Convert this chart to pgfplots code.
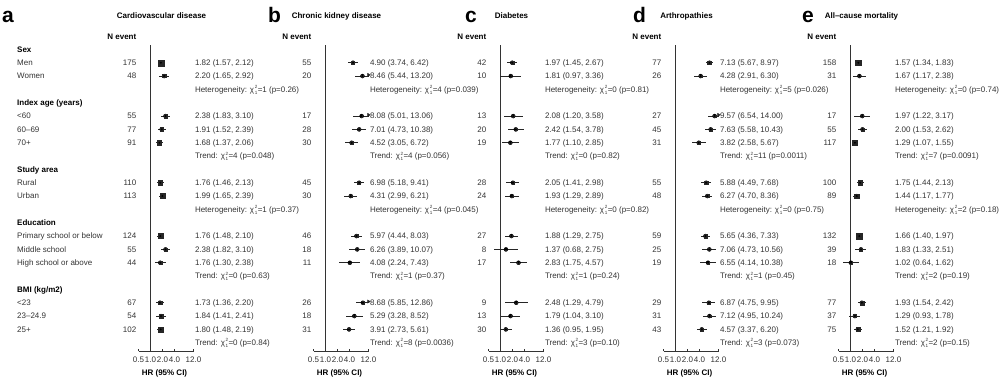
\documentclass[border=0pt]{standalone}
\usepackage{fontspec}
\setmainfont{Liberation Sans}
\usepackage{pgfplots}
\pgfplotsset{compat=1.18}
\usepackage{pgfplotstable}

\newcommand\fs{\fontsize{8.0}{9.5}\selectfont}
\tikzset{tx/.style={inner sep=0pt, font=\fs, text=black!80}}
\newcommand\chisq[1]{χ\kern0.6pt\rlap{\raisebox{3.7pt}{\fontsize{4.6}{4.6}\selectfont 2}}\raisebox{-2.2pt}{\fontsize{4.6}{4.6}\selectfont 1}\kern0.4pt=#1}
\newcommand\hrow[3]{%
  \node[tx,anchor=mid east,xshift=-14pt] at (axis cs:1,#1) {#2};
  \node[tx,anchor=mid west,xshift=1.3pt] at (axis cs:12,#1) {#3};}
\newcommand\strow[2]{\node[tx,anchor=mid west,xshift=1.3pt] at (axis cs:12,#1) {#2};}
\newcommand\lab[2]{\node[tx,anchor=mid west,xshift=-133.5pt] at (axis cs:1,#1) {#2};}
\newcommand\hdr[2]{\node[tx,anchor=mid west,xshift=-133.5pt,font=\fs\bfseries,text=black] at (axis cs:1,#1) {#2};}
\newcommand\panelhead[1]{%
  \node[tx,font=\fs\bfseries,text=black,anchor=mid,xshift=11pt] at (axis cs:1,-2.5) {#1};
  \node[tx,font=\fs\bfseries,text=black,anchor=mid east,xshift=-14pt] at (axis cs:1,-0.93) {N event};
  \node[tx,font=\fs\bfseries,text=black,anchor=mid,xshift=14pt,yshift=-22pt] at (axis cs:1,22.62) {HR (95\% CI)};
  \addplot[black!80, line width=1pt] coordinates {(1,-0.33) (1,22.62)};}
\newcommand\plotdata[1]{%
  \addplot[only marks, mark=none, error bars/.cd, x dir=both, x explicit, error mark=none,
    error bar style={black!85, line width=0.65pt}]
    table[x=hr, y=k, x error plus expr={min(\thisrow{hi},12)-\thisrow{hr}},
          x error minus expr={\thisrow{hr}-\thisrow{lo}}] {#1};
  \addplot[scatter, only marks, mark=square*, point meta=\thisrow{n},
    scatter/use mapped color={draw=black!85, fill=black!85},
    visualization depends on={0.9/(ln(\thisrow{hi})-ln(\thisrow{lo})) \as \msz},
    scatter/@pre marker code/.append style={/tikz/mark size=\msz}]
    table[x=hr, y=k] {#1};
  \addplot[only marks, mark=*, mark size=0.7pt, black] table[x=hr, y=k] {#1};}

\pgfplotstableread{
k n hr lo hi
1 175 1.82 1.57 2.12
2 48 2.20 1.65 2.92
5 55 2.38 1.83 3.10
6 77 1.91 1.52 2.39
7 91 1.68 1.37 2.06
10 110 1.76 1.46 2.13
11 113 1.99 1.65 2.39
14 124 1.76 1.48 2.10
15 55 2.38 1.82 3.10
16 44 1.76 1.30 2.38
19 67 1.73 1.36 2.20
20 54 1.84 1.41 2.41
21 102 1.80 1.48 2.19
}\dataa
\pgfplotstableread{
k n hr lo hi
1 55 4.90 3.74 6.42
2 20 8.46 5.44 13.20
5 17 8.08 5.01 13.06
6 28 7.01 4.73 10.38
7 30 4.52 3.05 6.72
10 45 6.98 5.18 9.41
11 30 4.31 2.99 6.21
14 46 5.97 4.44 8.03
15 18 6.26 3.89 10.07
16 11 4.08 2.24 7.43
19 26 8.68 5.85 12.86
20 18 5.29 3.28 8.52
21 31 3.91 2.73 5.61
}\datab
\pgfplotstableread{
k n hr lo hi
1 42 1.97 1.45 2.67
2 10 1.81 0.97 3.36
5 13 2.08 1.20 3.58
6 20 2.42 1.54 3.78
7 19 1.77 1.10 2.85
10 28 2.05 1.41 2.98
11 24 1.93 1.29 2.89
14 27 1.88 1.29 2.75
15 8 1.37 0.68 2.75
16 17 2.83 1.75 4.57
19 9 2.48 1.29 4.79
20 13 1.79 1.04 3.10
21 30 1.36 0.95 1.95
}\datac
\pgfplotstableread{
k n hr lo hi
1 77 7.13 5.67 8.97
2 26 4.28 2.91 6.30
5 27 9.57 6.54 14.00
6 45 7.63 5.58 10.43
7 31 3.82 2.58 5.67
10 55 5.88 4.49 7.68
11 48 6.27 4.70 8.36
14 59 5.65 4.36 7.33
15 25 7.06 4.73 10.56
16 19 6.55 4.14 10.38
19 29 6.87 4.75 9.95
20 31 7.12 4.95 10.24
21 43 4.57 3.37 6.20
}\datad
\pgfplotstableread{
k n hr lo hi
1 158 1.57 1.34 1.83
2 31 1.67 1.17 2.38
5 17 1.97 1.22 3.17
6 55 2.00 1.53 2.62
7 117 1.29 1.07 1.55
10 100 1.75 1.44 2.13
11 89 1.44 1.17 1.77
14 132 1.66 1.40 1.97
15 39 1.83 1.33 2.51
16 18 1.02 0.64 1.62
19 77 1.93 1.54 2.42
20 37 1.29 0.93 1.78
21 75 1.52 1.21 1.92
}\datae

\begin{document}
\begin{tikzpicture}
\path[use as bounding box] (0,0) rectangle (1000pt,-379pt);
\foreach \l/\x in {a/2,b/268,c/465,d/633,e/802}
  \node[anchor=base west, inner sep=0pt, font=\fontsize{21}{21}\selectfont\bfseries] at (\x pt,-22.5pt) {\l};

% ---------------- panel a
\begin{axis}[at={(138.5pt,-351pt)}, anchor=south west,
  xmode=log, xmin=0.5, xmax=12, ymin=-0.33, ymax=22.62, y dir=reverse,
  scale only axis, width=55pt, height=306pt, clip=false,
  axis x line*=bottom, axis y line=none, ytick=\empty,
  xtick={0.5,1,2,4,12}, xticklabels={0.5,1.0,2.0,4.0,12.0},
  tick align=inside, major tick length=2.2pt,
  x axis line style={black!80, line width=0.6pt},
  xtick style={black!80, line width=0.6pt},
  xticklabel style={font=\fs, text=black!80, inner sep=1pt, yshift=-5pt}]
\panelhead{Cardiovascular disease}
\plotdata{\dataa}
\hdr{0}{Sex}\lab{1}{Men}\lab{2}{Women}
\hdr{4}{Index age (years)}\lab{5}{<60}\lab{6}{60–69}\lab{7}{70+}
\hdr{9}{Study area}\lab{10}{Rural}\lab{11}{Urban}
\hdr{13}{Education}\lab{14}{Primary school or below}\lab{15}{Middle school}\lab{16}{High school or above}
\hdr{18}{BMI (kg/m2)}\lab{19}{<23}\lab{20}{23–24.9}\lab{21}{25+}
\hrow{1}{175}{1.82 (1.57, 2.12)}
\hrow{2}{48}{2.20 (1.65, 2.92)}
\strow{3}{Heterogeneity: \chisq{1} (p=0.26)}
\hrow{5}{55}{2.38 (1.83, 3.10)}
\hrow{6}{77}{1.91 (1.52, 2.39)}
\hrow{7}{91}{1.68 (1.37, 2.06)}
\strow{8}{Trend: \chisq{4} (p=0.048)}
\hrow{10}{110}{1.76 (1.46, 2.13)}
\hrow{11}{113}{1.99 (1.65, 2.39)}
\strow{12}{Heterogeneity: \chisq{1} (p=0.37)}
\hrow{14}{124}{1.76 (1.48, 2.10)}
\hrow{15}{55}{2.38 (1.82, 3.10)}
\hrow{16}{44}{1.76 (1.30, 2.38)}
\strow{17}{Trend: \chisq{0} (p=0.63)}
\hrow{19}{67}{1.73 (1.36, 2.20)}
\hrow{20}{54}{1.84 (1.41, 2.41)}
\hrow{21}{102}{1.80 (1.48, 2.19)}
\strow{22}{Trend: \chisq{0} (p=0.84)}
\end{axis}

% ---------------- panel b
\begin{axis}[at={(313.5pt,-351pt)}, anchor=south west,
  xmode=log, xmin=0.5, xmax=12, ymin=-0.33, ymax=22.62, y dir=reverse,
  scale only axis, width=55pt, height=306pt, clip=false,
  axis x line*=bottom, axis y line=none, ytick=\empty,
  xtick={0.5,1,2,4,12}, xticklabels={0.5,1.0,2.0,4.0,12.0},
  tick align=inside, major tick length=2.2pt,
  x axis line style={black!80, line width=0.6pt},
  xtick style={black!80, line width=0.6pt},
  xticklabel style={font=\fs, text=black!80, inner sep=1pt, yshift=-5pt}]
\panelhead{Chronic kidney disease}
\plotdata{\datab}
\addplot[only marks, mark=triangle*, mark size=1.8pt, black!85, mark options={rotate=-90, xshift=-1.2pt}] coordinates {(12,2) (12,5) (12,19)};
\hrow{1}{55}{4.90 (3.74, 6.42)}
\hrow{2}{20}{8.46 (5.44, 13.20)}
\strow{3}{Heterogeneity: \chisq{4} (p=0.039)}
\hrow{5}{17}{8.08 (5.01, 13.06)}
\hrow{6}{28}{7.01 (4.73, 10.38)}
\hrow{7}{30}{4.52 (3.05, 6.72)}
\strow{8}{Trend: \chisq{4} (p=0.056)}
\hrow{10}{45}{6.98 (5.18, 9.41)}
\hrow{11}{30}{4.31 (2.99, 6.21)}
\strow{12}{Heterogeneity: \chisq{4} (p=0.045)}
\hrow{14}{46}{5.97 (4.44, 8.03)}
\hrow{15}{18}{6.26 (3.89, 10.07)}
\hrow{16}{11}{4.08 (2.24, 7.43)}
\strow{17}{Trend: \chisq{1} (p=0.37)}
\hrow{19}{26}{8.68 (5.85, 12.86)}
\hrow{20}{18}{5.29 (3.28, 8.52)}
\hrow{21}{31}{3.91 (2.73, 5.61)}
\strow{22}{Trend: \chisq{8} (p=0.0036)}
\end{axis}

% ---------------- panel c
\begin{axis}[at={(488.5pt,-351pt)}, anchor=south west,
  xmode=log, xmin=0.5, xmax=12, ymin=-0.33, ymax=22.62, y dir=reverse,
  scale only axis, width=55pt, height=306pt, clip=false,
  axis x line*=bottom, axis y line=none, ytick=\empty,
  xtick={0.5,1,2,4,12}, xticklabels={0.5,1.0,2.0,4.0,12.0},
  tick align=inside, major tick length=2.2pt,
  x axis line style={black!80, line width=0.6pt},
  xtick style={black!80, line width=0.6pt},
  xticklabel style={font=\fs, text=black!80, inner sep=1pt, yshift=-5pt}]
\panelhead{Diabetes}
\plotdata{\datac}
\hrow{1}{42}{1.97 (1.45, 2.67)}
\hrow{2}{10}{1.81 (0.97, 3.36)}
\strow{3}{Heterogeneity: \chisq{0} (p=0.81)}
\hrow{5}{13}{2.08 (1.20, 3.58)}
\hrow{6}{20}{2.42 (1.54, 3.78)}
\hrow{7}{19}{1.77 (1.10, 2.85)}
\strow{8}{Trend: \chisq{0} (p=0.82)}
\hrow{10}{28}{2.05 (1.41, 2.98)}
\hrow{11}{24}{1.93 (1.29, 2.89)}
\strow{12}{Heterogeneity: \chisq{0} (p=0.82)}
\hrow{14}{27}{1.88 (1.29, 2.75)}
\hrow{15}{8}{1.37 (0.68, 2.75)}
\hrow{16}{17}{2.83 (1.75, 4.57)}
\strow{17}{Trend: \chisq{1} (p=0.24)}
\hrow{19}{9}{2.48 (1.29, 4.79)}
\hrow{20}{13}{1.79 (1.04, 3.10)}
\hrow{21}{30}{1.36 (0.95, 1.95)}
\strow{22}{Trend: \chisq{3} (p=0.10)}
\end{axis}

% ---------------- panel d
\begin{axis}[at={(663.5pt,-351pt)}, anchor=south west,
  xmode=log, xmin=0.5, xmax=12, ymin=-0.33, ymax=22.62, y dir=reverse,
  scale only axis, width=55pt, height=306pt, clip=false,
  axis x line*=bottom, axis y line=none, ytick=\empty,
  xtick={0.5,1,2,4,12}, xticklabels={0.5,1.0,2.0,4.0,12.0},
  tick align=inside, major tick length=2.2pt,
  x axis line style={black!80, line width=0.6pt},
  xtick style={black!80, line width=0.6pt},
  xticklabel style={font=\fs, text=black!80, inner sep=1pt, yshift=-5pt}]
\panelhead{Arthropathies}
\plotdata{\datad}
\addplot[only marks, mark=triangle*, mark size=1.8pt, black!85, mark options={rotate=-90, xshift=-1.2pt}] coordinates {(12,5)};
\hrow{1}{77}{7.13 (5.67, 8.97)}
\hrow{2}{26}{4.28 (2.91, 6.30)}
\strow{3}{Heterogeneity: \chisq{5} (p=0.026)}
\hrow{5}{27}{9.57 (6.54, 14.00)}
\hrow{6}{45}{7.63 (5.58, 10.43)}
\hrow{7}{31}{3.82 (2.58, 5.67)}
\strow{8}{Trend: \chisq{11} (p=0.0011)}
\hrow{10}{55}{5.88 (4.49, 7.68)}
\hrow{11}{48}{6.27 (4.70, 8.36)}
\strow{12}{Heterogeneity: \chisq{0} (p=0.75)}
\hrow{14}{59}{5.65 (4.36, 7.33)}
\hrow{15}{25}{7.06 (4.73, 10.56)}
\hrow{16}{19}{6.55 (4.14, 10.38)}
\strow{17}{Trend: \chisq{1} (p=0.45)}
\hrow{19}{29}{6.87 (4.75, 9.95)}
\hrow{20}{31}{7.12 (4.95, 10.24)}
\hrow{21}{43}{4.57 (3.37, 6.20)}
\strow{22}{Trend: \chisq{3} (p=0.073)}
\end{axis}

% ---------------- panel e
\begin{axis}[at={(838.5pt,-351pt)}, anchor=south west,
  xmode=log, xmin=0.5, xmax=12, ymin=-0.33, ymax=22.62, y dir=reverse,
  scale only axis, width=55pt, height=306pt, clip=false,
  axis x line*=bottom, axis y line=none, ytick=\empty,
  xtick={0.5,1,2,4,12}, xticklabels={0.5,1.0,2.0,4.0,12.0},
  tick align=inside, major tick length=2.2pt,
  x axis line style={black!80, line width=0.6pt},
  xtick style={black!80, line width=0.6pt},
  xticklabel style={font=\fs, text=black!80, inner sep=1pt, yshift=-5pt}]
\panelhead{All–cause mortality}
\plotdata{\datae}
\hrow{1}{158}{1.57 (1.34, 1.83)}
\hrow{2}{31}{1.67 (1.17, 2.38)}
\strow{3}{Heterogeneity: \chisq{0} (p=0.74)}
\hrow{5}{17}{1.97 (1.22, 3.17)}
\hrow{6}{55}{2.00 (1.53, 2.62)}
\hrow{7}{117}{1.29 (1.07, 1.55)}
\strow{8}{Trend: \chisq{7} (p=0.0091)}
\hrow{10}{100}{1.75 (1.44, 2.13)}
\hrow{11}{89}{1.44 (1.17, 1.77)}
\strow{12}{Heterogeneity: \chisq{2} (p=0.18)}
\hrow{14}{132}{1.66 (1.40, 1.97)}
\hrow{15}{39}{1.83 (1.33, 2.51)}
\hrow{16}{18}{1.02 (0.64, 1.62)}
\strow{17}{Trend: \chisq{2} (p=0.19)}
\hrow{19}{77}{1.93 (1.54, 2.42)}
\hrow{20}{37}{1.29 (0.93, 1.78)}
\hrow{21}{75}{1.52 (1.21, 1.92)}
\strow{22}{Trend: \chisq{2} (p=0.15)}
\end{axis}
\end{tikzpicture}
\end{document}
